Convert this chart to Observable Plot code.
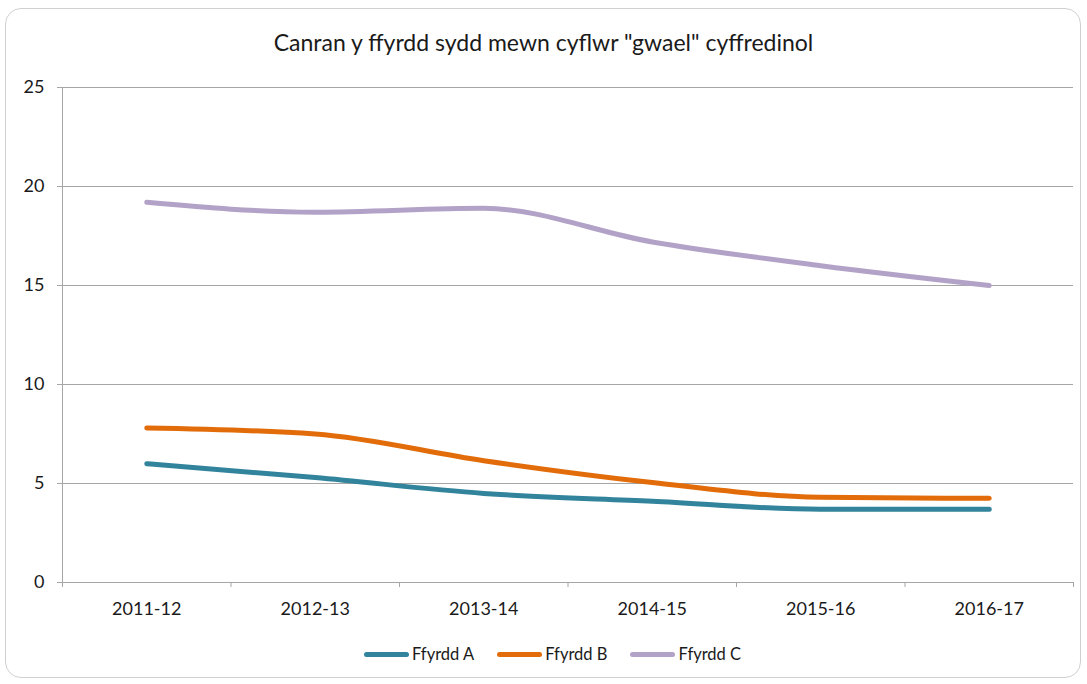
<!DOCTYPE html>
<html>
<head>
<meta charset="utf-8">
<script src="https://cdn.jsdelivr.net/npm/d3@7"></script>
<script src="https://cdn.jsdelivr.net/npm/@observablehq/plot@0.6"></script>
<style>
  html, body { margin: 0; padding: 0; background: #fff; }
  body { width: 1087px; height: 684px; position: relative; overflow: hidden; font-family: Lato, "Open Sans", sans-serif; color: #1a1a1a; }
  #frame { position: absolute; left: 5px; top: 8px; width: 1076px; height: 670px; border: 1px solid #d0d0d0; border-radius: 16px; box-sizing: border-box; }
  #title { position: absolute; left: 0; width: 1087px; top: 28px; text-align: center; font-size: 23px; color: #1a1a1a; }
  #chart { position: absolute; left: 0; top: 70px; }
  #legend { position: absolute; left: 9px; width: 1087px; top: 644px; display: flex; justify-content: center; gap: 23px; font-size: 16.5px; color: #1a1a1a; }
  .item { display: flex; align-items: center; gap: 3px; }
  .sw { width: 45px; height: 5px; border-radius: 3px; flex: none; }
</style>
</head>
<body>
<div id="frame"></div>
<div id="title">Canran y ffyrdd sydd mewn cyflwr "gwael" cyffredinol</div>
<div id="chart"></div>
<div id="legend"></div>
<script>
const categories = ["2011-12", "2012-13", "2013-14", "2014-15", "2015-16", "2016-17"];
const seriesNames = ["Ffyrdd A", "Ffyrdd B", "Ffyrdd C"];
const ffyrddA = [6.0, 5.3, 4.5, 4.1, 3.7, 3.7];
const ffyrddB = [7.8, 7.5, 6.15, 5.05, 4.3, 4.25];
const ffyrddC = [19.2, 18.7, 18.9, 17.2, 16.0, 15.0];
const colors = ["#31849b", "#e36c0a", "#b3a2c7"];
const yTicks = [0, 5, 10, 15, 20, 25];

const seriesValues = [ffyrddA, ffyrddB, ffyrddC];
const data = [];
seriesValues.forEach((vals, s) => vals.forEach((v, i) => data.push({series: seriesNames[s], pos: i + 0.5, value: v})));

const boundaries = d3.range(categories.length + 1);
const centers = categories.map((c, i) => i + 0.5);

const chart = Plot.plot({
  width: 1087,
  height: 560,
  marginLeft: 62,
  marginRight: 14,
  marginTop: 17,
  marginBottom: 48,
  style: {fontFamily: "Lato, 'Open Sans', sans-serif", fontSize: "17px", color: "#1a1a1a", background: "transparent"},
  x: {domain: [0, categories.length]},
  y: {domain: [0, 25]},
  color: {domain: seriesNames, range: colors},
  marks: [
    Plot.gridY(yTicks.filter(d => d > 0), {stroke: "#a6a6a6", strokeOpacity: 1, strokeWidth: 1}),
    Plot.ruleY([0], {stroke: "#a6a6a6", strokeWidth: 1}),
    Plot.ruleX([0], {stroke: "#a6a6a6", strokeWidth: 1}),
    Plot.axisY({ticks: yTicks, tickSize: 5, tickPadding: 13, stroke: "#a6a6a6", label: null, fontSize: 18}),
    Plot.axisX({ticks: boundaries, tickSize: 5, tickFormat: () => "", stroke: "#a6a6a6", label: null}),
    Plot.axisX({ticks: centers, tickSize: 0, tickPadding: 20, tickFormat: d => categories[Math.round(d - 0.5)], label: null, fontSize: 18}),
    Plot.line(data, {x: "pos", y: "value", z: "series", stroke: "series", strokeWidth: 5, curve: "monotone-x", strokeLinecap: "round"})
  ]
});
document.getElementById("chart").appendChild(chart);

const legend = document.getElementById("legend");
seriesNames.forEach((name, i) => {
  const item = document.createElement("div");
  item.className = "item";
  const sw = document.createElement("div");
  sw.className = "sw";
  sw.style.background = colors[i];
  const label = document.createElement("span");
  label.textContent = name;
  item.appendChild(sw);
  item.appendChild(label);
  legend.appendChild(item);
});
</script>
</body>
</html>
